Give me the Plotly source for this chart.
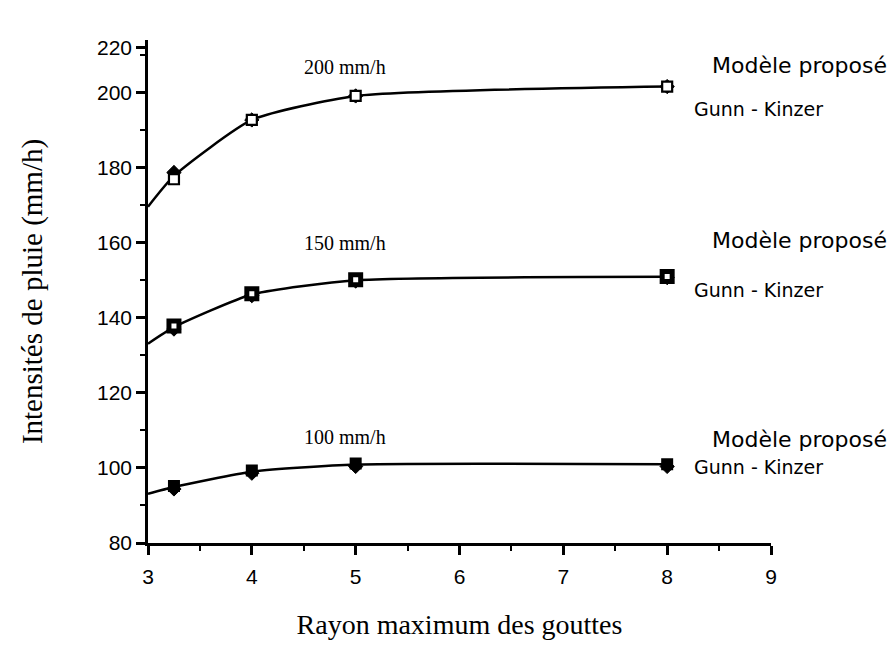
import plotly.graph_objects as go

# Data
rayon = [3.25, 4, 5, 8]
curve_x = [3, 3.25, 4, 5, 8]

model_200 = [176.9, 192.7, 199.1, 201.6]
gk_200 = [178.7, 192.7, 199.1, 201.6]
curve_200 = [169.6, 177.8, 192.7, 199.1, 201.6]

model_150 = [137.8, 146.4, 150.1, 151.0]
gk_150 = [137.0, 145.9, 149.8, 150.7]
curve_150 = [133.1, 137.5, 146.2, 150.0, 150.9]

model_100 = [95.2, 99.3, 101.2, 101.0]
gk_100 = [94.4, 98.6, 100.4, 100.4]
curve_100 = [93.1, 94.9, 99.0, 100.9, 101.0]

y_tickvals = [80, 100, 120, 140, 160, 180, 200, 212]
y_ticktext = ["80", "100", "120", "140", "160", "180", "200", "220"]
x_ticks = [3, 4, 5, 6, 7, 8, 9]

fig = go.Figure()

series = [
    (curve_200, model_200, gk_200, "white", 2.2),
    (curve_150, model_150, gk_150, "white", 5),
    (curve_100, model_100, gk_100, "black", 2),
]
for curve, model, gk, fill, lw in series:
    fig.add_trace(go.Scatter(x=curve_x, y=curve, mode="lines",
                             line=dict(color="black", width=2.5, shape="spline", smoothing=0.55),
                             showlegend=False, hoverinfo="skip"))
    fig.add_trace(go.Scatter(x=rayon, y=gk, mode="markers",
                             marker=dict(symbol="diamond", size=11, color="black",
                                         line=dict(color="black", width=1)),
                             showlegend=False, name="Gunn - Kinzer"))
    fig.add_trace(go.Scatter(x=rayon, y=model, mode="markers",
                             marker=dict(symbol="square", size=10, color=fill,
                                         line=dict(color="black", width=lw)),
                             showlegend=False, name="Modèle proposé"))

serif = "Liberation Serif, Times New Roman, serif"
sans = "DejaVu Sans, sans-serif"

annotations = []
for txt, yv in [("200 mm/h", 206.7), ("150 mm/h", 159.8), ("100 mm/h", 108.3)]:
    annotations.append(dict(x=4.9, y=yv, xref="x", yref="y", text=txt, showarrow=False,
                            font=dict(family=serif, size=20, color="black")))
for yv in [207.2, 160.5, 107.5]:
    annotations.append(dict(x=1.19, y=yv, xref="paper", yref="y", text="Modèle proposé",
                            xanchor="right", showarrow=False,
                            font=dict(family=sans, size=22, color="black")))
for yv in [195.5, 147.5, 100.3]:
    annotations.append(dict(x=0.873, y=yv, xref="paper", yref="y", text="Gunn - Kinzer",
                            xanchor="left", showarrow=False,
                            font=dict(family=sans, size=19, color="black")))

tickfont = dict(family="Liberation Sans, Arial, sans-serif", size=21, color="black")

fig.update_layout(
    width=896, height=656,
    margin=dict(l=148, r=125, t=40, b=113),
    paper_bgcolor="white", plot_bgcolor="white",
    annotations=annotations,
    xaxis=dict(range=[3, 9], tickvals=x_ticks, showgrid=False, zeroline=False,
               showline=True, linecolor="black", linewidth=2.5,
               ticks="outside", ticklen=9, tickwidth=2.5, tickcolor="black",
               ticklabelstandoff=4,
               minor=dict(tick0=3, dtick=0.5, ticks="outside", ticklen=5, tickwidth=2, tickcolor="black"),
               tickfont=tickfont,
               title=dict(text="Rayon maximum des gouttes", standoff=28,
                          font=dict(family=serif, size=28, color="black"))),
    yaxis=dict(range=[80, 214], tickvals=y_tickvals, ticktext=y_ticktext,
               showgrid=False, zeroline=False,
               showline=True, linecolor="black", linewidth=2.5,
               ticks="outside", ticklen=9, tickwidth=2.5, tickcolor="black",
               minor=dict(tick0=80, dtick=10, ticks="outside", ticklen=5, tickwidth=2, tickcolor="black"),
               tickfont=tickfont,
               title=dict(text="Intensités de pluie (mm/h)", standoff=46,
                          font=dict(family=serif, size=29, color="black"))),
)

fig.write_html("out.html")
